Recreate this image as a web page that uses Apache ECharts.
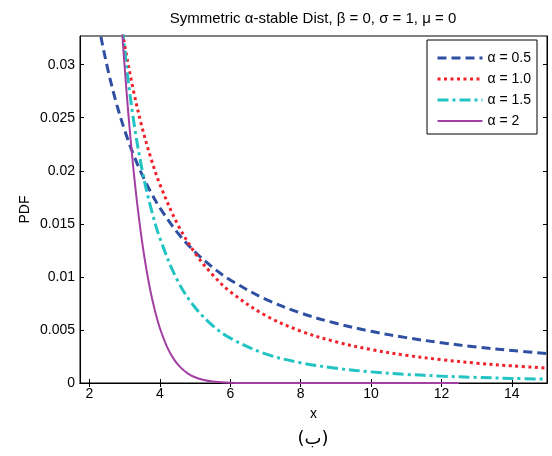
<!DOCTYPE html>
<html>
<head>
<meta charset="utf-8">
<script src="https://cdn.jsdelivr.net/npm/echarts@6/dist/echarts.min.js"></script>
<style>
html,body{margin:0;padding:0;background:#fff;}
#chart{width:552px;height:456px;}
</style>
</head>
<body>
<div id="chart"></div>
<script>
// ---- data ----
const titleText = 'Symmetric \u03b1-stable Dist, \u03b2 = 0, \u03c3 = 1, \u03bc = 0';
const xName = 'x';
const yName = 'PDF';
const caption = '(\u0628)';
const seriesNames = ['\u03b1 = 0.5', '\u03b1 = 1.0', '\u03b1 = 1.5', '\u03b1 = 2'];

const xTicks = [2, 4, 6, 8, 10, 12, 14];
const yTicks = [0, 0.005, 0.01, 0.015, 0.02, 0.025, 0.03];

const xA05 = [2, 2.25, 2.5, 2.75, 3, 3.25, 3.5, 3.75, 4, 4.5, 5, 5.5, 6, 7, 8, 9, 10, 11, 12, 13, 14, 15];
const yA05 = [0.03915, 0.03396, 0.02986, 0.02653, 0.02380, 0.02152, 0.01959, 0.01793, 0.01651, 0.01417, 0.01235, 0.010895, 0.009708, 0.007903, 0.006601, 0.005625, 0.004872, 0.004276, 0.003793, 0.003395, 0.003064, 0.002783];

const xA10 = [2.5, 2.75, 3, 3.25, 3.5, 3.75, 4, 4.5, 5, 5.5, 6, 7, 8, 9, 10, 11, 12, 13, 14, 15];
const yA10 = [0.0439, 0.03717, 0.03183, 0.02753, 0.02402, 0.02113, 0.01872, 0.01498, 0.01224, 0.01019, 0.0086, 0.006366, 0.004897, 0.003882, 0.003152, 0.002609, 0.002195, 0.001872, 0.001616, 0.001408];

const xA15 = [2.5, 2.75, 3, 3.25, 3.5, 3.75, 4, 4.5, 5, 5.5, 6, 7, 8, 9, 10, 11, 12, 13, 14, 15];
const yA15 = [0.052, 0.0408, 0.0314, 0.0248, 0.0200, 0.01644, 0.01365, 0.009658, 0.007111, 0.005408, 0.004224, 0.002748, 0.001907, 0.001388, 0.001048, 0.000814, 0.000648, 0.000526, 0.000434, 0.000363];

const xA20 = [2.75, 2.9, 3, 3.1, 3.2, 3.3, 3.4, 3.5, 3.6, 3.7, 3.8, 3.9, 4, 4.2, 4.4, 4.6, 4.8, 5, 5.25, 5.5, 6, 7, 8, 10, 12.5];
const yA20 = [0.04259, 0.03445, 0.02973, 0.02553, 0.02181, 0.01853, 0.01568, 0.01319, 0.01105, 0.009204, 0.00763, 0.006294, 0.005167, 0.00343, 0.002231, 0.001422, 0.000889, 0.000545, 0.000287, 0.000147, 0.0000348, 0.0000014, 0, 0, 0];

// ---- chart ----
const FONT = '"Liberation Sans", Arial, Helvetica, sans-serif';
const pairs = (xs, ys) => xs.map((x, i) => [x, ys[i]]);
const chart = echarts.init(document.getElementById('chart'), null, {renderer: 'canvas'});

const tickStyle = {show: true, inside: true, length: 4, lineStyle: {color: '#000', width: 1}};
const lineAxis = {show: true, lineStyle: {color: '#000', width: 1}};

const styles = [
  {color: '#2f4fa2', width: 3, dash: [9, 5]},
  {color: '#f2202a', width: 3, dash: [3, 3.5]},
  {color: '#22c3c3', width: 3, dash: [11, 4, 3, 4]},
  {color: '#a33fa3', width: 2, dash: 'solid'}
];

function mkSeries(name, xs, ys, st) {
  return {
    name: name, type: 'line', data: pairs(xs, ys),
    showSymbol: false, symbol: 'none', smooth: 0.35,
    clip: true, animation: false,
    lineStyle: {color: st.color, width: st.width, type: st.dash, cap: 'butt', join: 'round'},
    itemStyle: {color: st.color}
  };
}

const option = {
  animation: false,
  backgroundColor: '#fff',
  grid: {left: 80, right: 5, top: 36, bottom: 73, show: true, borderColor: '#000', borderWidth: 1, backgroundColor: 'transparent'},
  legend: {
    orient: 'vertical', left: 427, top: 40,
    padding: [11, 6, 6, 9], itemGap: 7, itemWidth: 45, itemHeight: 14,
    borderColor: '#000', borderWidth: 1, backgroundColor: '#fff',
    itemStyle: {opacity: 0, borderWidth: 0},
    textStyle: {fontFamily: FONT, fontSize: 14, color: '#000'},
    data: seriesNames.map((n, i) => ({
      name: n,
      lineStyle: {width: styles[i].width, type: styles[i].dash, color: styles[i].color, cap: 'butt'}
    }))
  },
  xAxis: [
    {type: 'value', min: 1.73, max: 15, position: 'bottom',
     axisLine: lineAxis, splitLine: {show: false},
     axisTick: Object.assign({customValues: xTicks}, tickStyle),
     axisLabel: {customValues: xTicks, fontFamily: FONT, fontSize: 14, color: '#000', margin: 4},
     name: xName, nameLocation: 'middle', nameGap: 24, nameMoveOverlap: false,
     nameTextStyle: {fontFamily: FONT, fontSize: 14, color: '#000'}},
    {type: 'value', min: 1.73, max: 15, position: 'top',
     axisLine: lineAxis, splitLine: {show: false},
     axisTick: Object.assign({customValues: xTicks}, tickStyle),
     axisLabel: {show: false}}
  ],
  yAxis: [
    {type: 'value', min: 0, max: 0.0327, position: 'left',
     axisLine: lineAxis, splitLine: {show: false},
     axisTick: Object.assign({customValues: yTicks}, tickStyle),
     axisLabel: {customValues: yTicks, fontFamily: FONT, fontSize: 14, color: '#000', margin: 5},
     name: yName, nameLocation: 'middle', nameGap: 48, nameRotate: 90, nameMoveOverlap: false,
     nameTextStyle: {fontFamily: FONT, fontSize: 14, color: '#000'}},
    {type: 'value', min: 0, max: 0.0327, position: 'right',
     axisLine: lineAxis, splitLine: {show: false},
     axisTick: Object.assign({customValues: yTicks}, tickStyle),
     axisLabel: {show: false}}
  ],
  graphic: [
    {type: 'text', x: 313, y: 19, silent: true,
     style: {text: titleText, font: '15px ' + FONT, fill: '#000', textAlign: 'center', textVerticalAlign: 'middle'}},
    {type: 'text', x: 313, y: 439, silent: true,
     style: {text: caption, font: '18px "DejaVu Sans", ' + FONT, fill: '#000', textAlign: 'center', textVerticalAlign: 'middle'}}
  ],
  series: seriesNames.map((n, i) => mkSeries(n, [xA05, xA10, xA15, xA20][i], [yA05, yA10, yA15, yA20][i], styles[i]))
};
chart.setOption(option);
</script>
</body>
</html>
